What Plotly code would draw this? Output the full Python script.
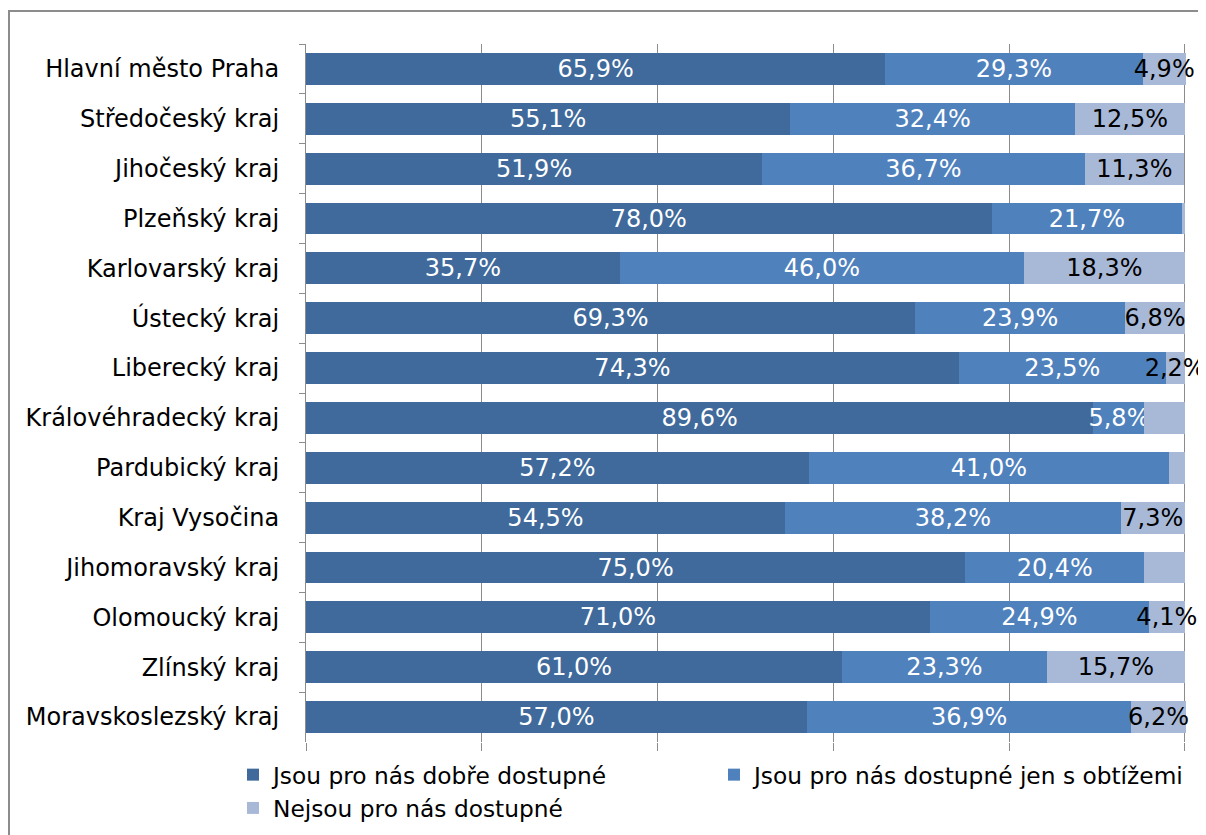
import plotly.graph_objects as go

regions = ["Hlavní město Praha", "Středočeský kraj", "Jihočeský kraj", "Plzeňský kraj",
           "Karlovarský kraj", "Ústecký kraj", "Liberecký kraj", "Královéhradecký kraj",
           "Pardubický kraj", "Kraj Vysočina", "Jihomoravský kraj", "Olomoucký kraj",
           "Zlínský kraj", "Moravskoslezský kraj"]
good = [65.9, 55.1, 51.9, 78.0, 35.7, 69.3, 74.3, 89.6, 57.2, 54.5, 75.0, 71.0, 61.0, 57.0]
hard = [29.3, 32.4, 36.7, 21.7, 46.0, 23.9, 23.5, 5.8, 41.0, 38.2, 20.4, 24.9, 23.3, 36.9]
none = [4.9, 12.5, 11.3, 0.3, 18.3, 6.8, 2.2, 4.6, 1.8, 7.3, 4.6, 4.1, 15.7, 6.2]
none_labelled = [True, True, True, False, True, True, True, False, False, True, False, True, True, True]

series_names = ["Jsou pro nás dobře dostupné", "Jsou pro nás dostupné jen s obtížemi",
                "Nejsou pro nás dostupné"]
colors = ["#3F6A9B", "#4F81BD", "#A8B9D8"]


def fmt(v):
    return f"{v:.1f}".replace(".", ",") + "%"


texts = [[fmt(v) for v in good], [fmt(v) for v in hard],
         [fmt(v) if s else "" for v, s in zip(none, none_labelled)]]
text_colors = ["white", "white", "black"]

FONT = "DejaVu Sans, Verdana, sans-serif"
FS = 24
OFF = 8  # page body margin
W, H = 1206 - OFF, 835 - OFF
ML, MR, MT, MB = 306 - OFF, 20, 44 - OFF, 93
PW, PH = W - ML - MR, H - MT - MB


def px_x(x):  # page pixel -> paper x
    return (x - OFF - ML) / PW


def px_y(y):  # page pixel -> paper y
    return (MT + PH - (y - OFF)) / PH


fig = go.Figure()
for vals, name, col, txt, tc in zip([good, hard, none], series_names, colors, texts, text_colors):
    fig.add_trace(go.Bar(
        y=regions, x=vals, orientation="h", name=name,
        marker=dict(color=col, line=dict(width=0)),
        text=txt, textposition="inside", insidetextanchor="middle", textangle=0,
        textfont=dict(family=FONT, size=FS, color=tc),
        cliponaxis=False, hoverinfo="skip",
    ))

fig.update_layout(
    barmode="stack", bargap=0.36,
    width=W, height=H,
    margin=dict(l=ML, r=MR, t=MT, b=MB, autoexpand=False),
    paper_bgcolor="white", plot_bgcolor="white",
    font=dict(family=FONT, size=FS, color="black"),
    uniformtext=dict(mode="show", minsize=FS),
    showlegend=True,
    legend=dict(orientation="h", traceorder="normal",
                x=px_x(233), xanchor="left",
                y=px_y(753), yanchor="top",
                entrywidth=436, entrywidthmode="pixels",
                font=dict(family=FONT, size=23.3, color="black"),
                itemwidth=30, tracegroupgap=0, bgcolor="rgba(0,0,0,0)"),
    xaxis=dict(range=[0, 100.13], tickvals=[0, 20, 40, 60, 80, 100], showticklabels=False,
               showgrid=True, gridcolor="#8C8C8C", gridwidth=1,
               ticks="outside", ticklen=8, tickcolor="#8C8C8C",
               zeroline=False, showline=False, fixedrange=True),
    yaxis=dict(autorange="reversed", ticks="outside", tickson="boundaries", ticklen=6,
               tickcolor="#8C8C8C", showline=True, linecolor="#8C8C8C", linewidth=1,
               ticklabelstandoff=21, showgrid=False,
               tickfont=dict(family=FONT, size=FS, color="black")),
    shapes=[dict(type="rect", xref="paper", yref="paper",
                 x0=px_x(9), x1=px_x(1230),
                 y0=px_y(860), y1=px_y(11),
                 line=dict(color="#8C8C8C", width=2), fillcolor="rgba(0,0,0,0)", layer="below")],
)

fig.write_html("out.html")
